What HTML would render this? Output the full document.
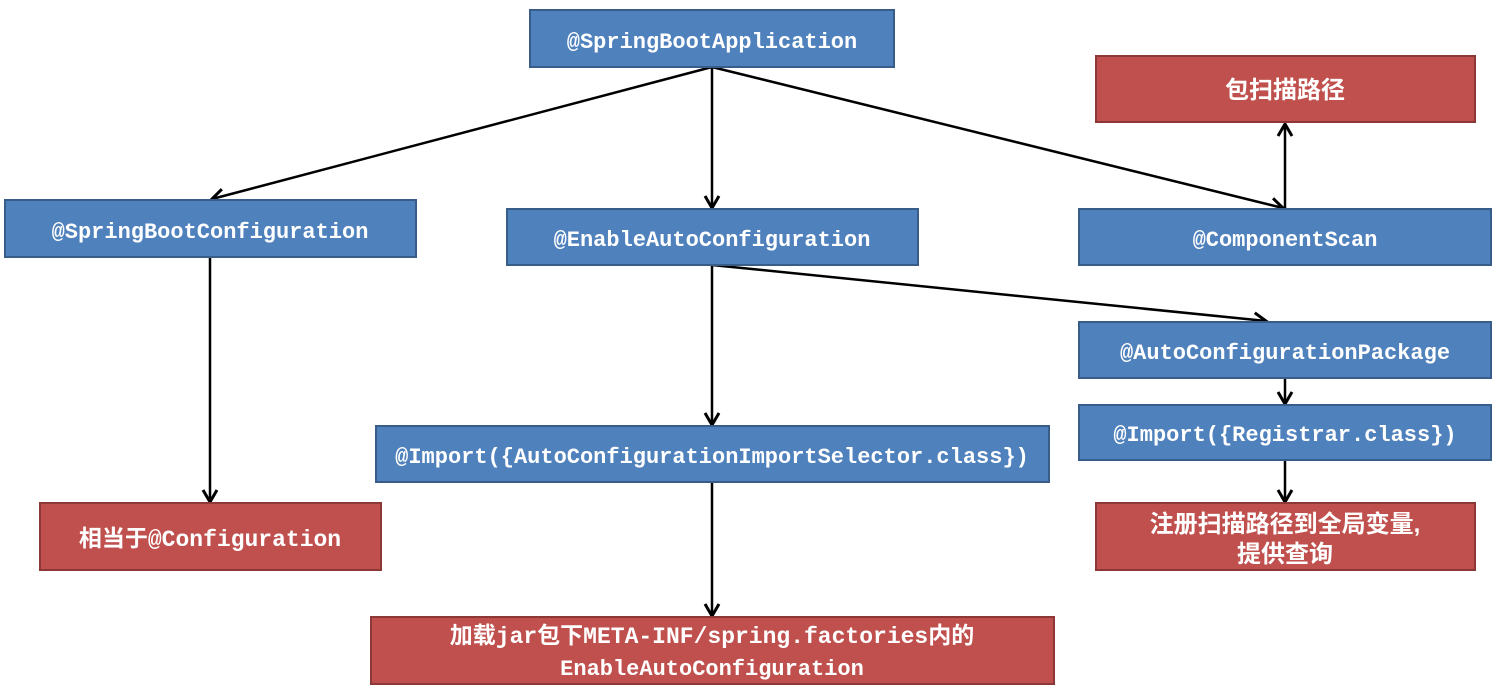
<!DOCTYPE html>
<html><head><meta charset="utf-8"><style>
body{margin:0;background:#fff;width:1498px;height:693px;overflow:hidden}
.t{font-family:"Liberation Mono","Noto Sans CJK SC",monospace;font-weight:bold;font-size:22px;fill:#fff}
.c{font-family:"Liberation Sans","Noto Sans CJK SC",sans-serif;font-weight:bold;font-size:24px;fill:#fff}
</style></head><body>
<svg width="1498" height="693" xmlns="http://www.w3.org/2000/svg">
<defs><marker id="a" markerWidth="18" markerHeight="18" refX="15" refY="9" orient="auto" markerUnits="userSpaceOnUse">
<polyline points="3,2 15,9 3,16" fill="none" stroke="#000" stroke-width="3"/></marker></defs>
<g stroke="#000" stroke-width="2.5" marker-end="url(#a)">
<line x1="712" y1="67" x2="212" y2="199"/>
<line x1="712" y1="67" x2="712" y2="208"/>
<line x1="712" y1="67" x2="1283" y2="208"/>
<line x1="1285" y1="209" x2="1285" y2="124"/>
<line x1="210" y1="257" x2="210" y2="502"/>
<line x1="712" y1="265" x2="712" y2="425"/>
<line x1="712" y1="265" x2="1266" y2="321"/>
<line x1="712" y1="482" x2="712" y2="616"/>
<line x1="1285" y1="378" x2="1285" y2="404"/>
<line x1="1285" y1="460" x2="1285" y2="502"/>
</g>
<g stroke-width="2">
<rect x="530" y="10" width="364" height="57" fill="#4F81BD" stroke="#385D8A"/>
<rect x="5" y="200" width="411" height="57" fill="#4F81BD" stroke="#385D8A"/>
<rect x="507" y="209" width="411" height="56" fill="#4F81BD" stroke="#385D8A"/>
<rect x="1079" y="209" width="412" height="56" fill="#4F81BD" stroke="#385D8A"/>
<rect x="1079" y="322" width="412" height="56" fill="#4F81BD" stroke="#385D8A"/>
<rect x="1079" y="405" width="412" height="55" fill="#4F81BD" stroke="#385D8A"/>
<rect x="376" y="426" width="673" height="56" fill="#4F81BD" stroke="#385D8A"/>
<rect x="1096" y="56" width="379" height="66" fill="#C0504D" stroke="#8C3836"/>
<rect x="1096" y="503" width="379" height="67" fill="#C0504D" stroke="#8C3836"/>
<rect x="40" y="503" width="341" height="67" fill="#C0504D" stroke="#8C3836"/>
<rect x="371" y="617" width="683" height="67" fill="#C0504D" stroke="#8C3836"/>
</g>
<g class="t" text-anchor="middle">
<text x="712" y="48">@SpringBootApplication</text>
<text x="210" y="238">@SpringBootConfiguration</text>
<text x="712" y="246">@EnableAutoConfiguration</text>
<text x="1285" y="246">@ComponentScan</text>
<text x="1285" y="359">@AutoConfigurationPackage</text>
<text x="1285" y="441">@Import({Registrar.class})</text>
<text x="712" y="463">@Import({AutoConfigurationImportSelector.class})</text>
<text x="210" y="546" font-size="23">相当于@Configuration</text>
<text x="712" y="643" font-size="23">加载jar包下META-INF/spring.factories内的</text>
<text x="712" y="675">EnableAutoConfiguration</text>
</g>
<g class="c" text-anchor="middle">
<text x="1285" y="98">包扫描路径</text>
<text x="1285" y="532">注册扫描路径到全局变量,</text>
<text x="1285" y="562">提供查询</text>
</g>
</svg>
</body></html>
